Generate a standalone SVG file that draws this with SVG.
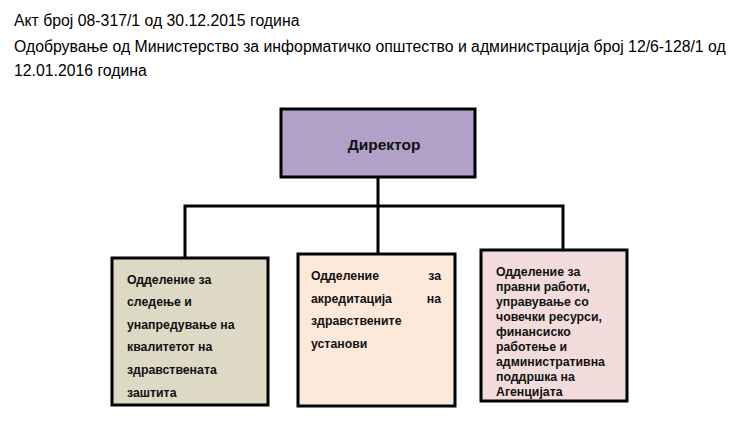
<svg xmlns="http://www.w3.org/2000/svg" width="733" height="429" viewBox="0 0 733 429">
<style>
.h{font-family:"Liberation Sans",Arial,sans-serif;font-size:15.8px;fill:#000}
.b{font-family:"Liberation Sans",Arial,sans-serif;font-size:12.3px;font-weight:bold;fill:#111}
.d{font-size:15.5px}
.box{stroke:#000;stroke-width:3}
.c{stroke:#000;stroke-width:3;fill:none}
</style>
<rect width="733" height="429" fill="#fff"/>
<text class="h" x="14" y="26">Акт број 08-317/1 од 30.12.2015 година</text>
<text class="h" x="14" y="52">Одобрување од Министерство за информатичко општество и администрација број 12/6-128/1 од</text>
<text class="h" x="14" y="76">12.01.2016 година</text>
<g id="connectors">
<path class="c" d="M378 178V253M185 258V206H563V250"/>
</g>
<g id="director">
<rect class="box" x="281" y="109" width="194" height="68" fill="#b1a0c7"/>
<text class="b d" x="384" y="150" text-anchor="middle">Директор</text>
</g>
<g id="dept1">
<rect class="box" x="112" y="258" width="156" height="147" fill="#ddd9c4"/>
<text class="b" x="127" y="284">Одделение за</text>
<text class="b" x="127" y="306">следење и</text>
<text class="b" x="127" y="329">унапредување на</text>
<text class="b" x="127" y="351">квалитетот на</text>
<text class="b" x="127" y="374">здравствената</text>
<text class="b" x="127" y="397">заштита</text>
</g>
<g id="dept2">
<rect class="box" x="298" y="254" width="157" height="152" fill="#fde9d9"/>
<text class="b" x="311" y="280">Одделение</text>
<text class="b" x="441" y="280" text-anchor="end">за</text>
<text class="b" x="311" y="303">акредитација</text>
<text class="b" x="441" y="303" text-anchor="end">на</text>
<text class="b" x="311" y="325">здравствените</text>
<text class="b" x="311" y="348">установи</text>
</g>
<g id="dept3">
<rect class="box" x="481" y="250" width="146" height="151" fill="#f2dcdb"/>
<text class="b" x="496" y="276">Одделение за</text>
<text class="b" x="496" y="291">правни работи,</text>
<text class="b" x="496" y="306">управување со</text>
<text class="b" x="496" y="321">човечки ресурси,</text>
<text class="b" x="496" y="336">финансиско</text>
<text class="b" x="496" y="351">работење и</text>
<text class="b" x="496" y="366">административна</text>
<text class="b" x="496" y="381">поддршка на</text>
<text class="b" x="496" y="396">Агенцијата</text>
</g>
</svg>
